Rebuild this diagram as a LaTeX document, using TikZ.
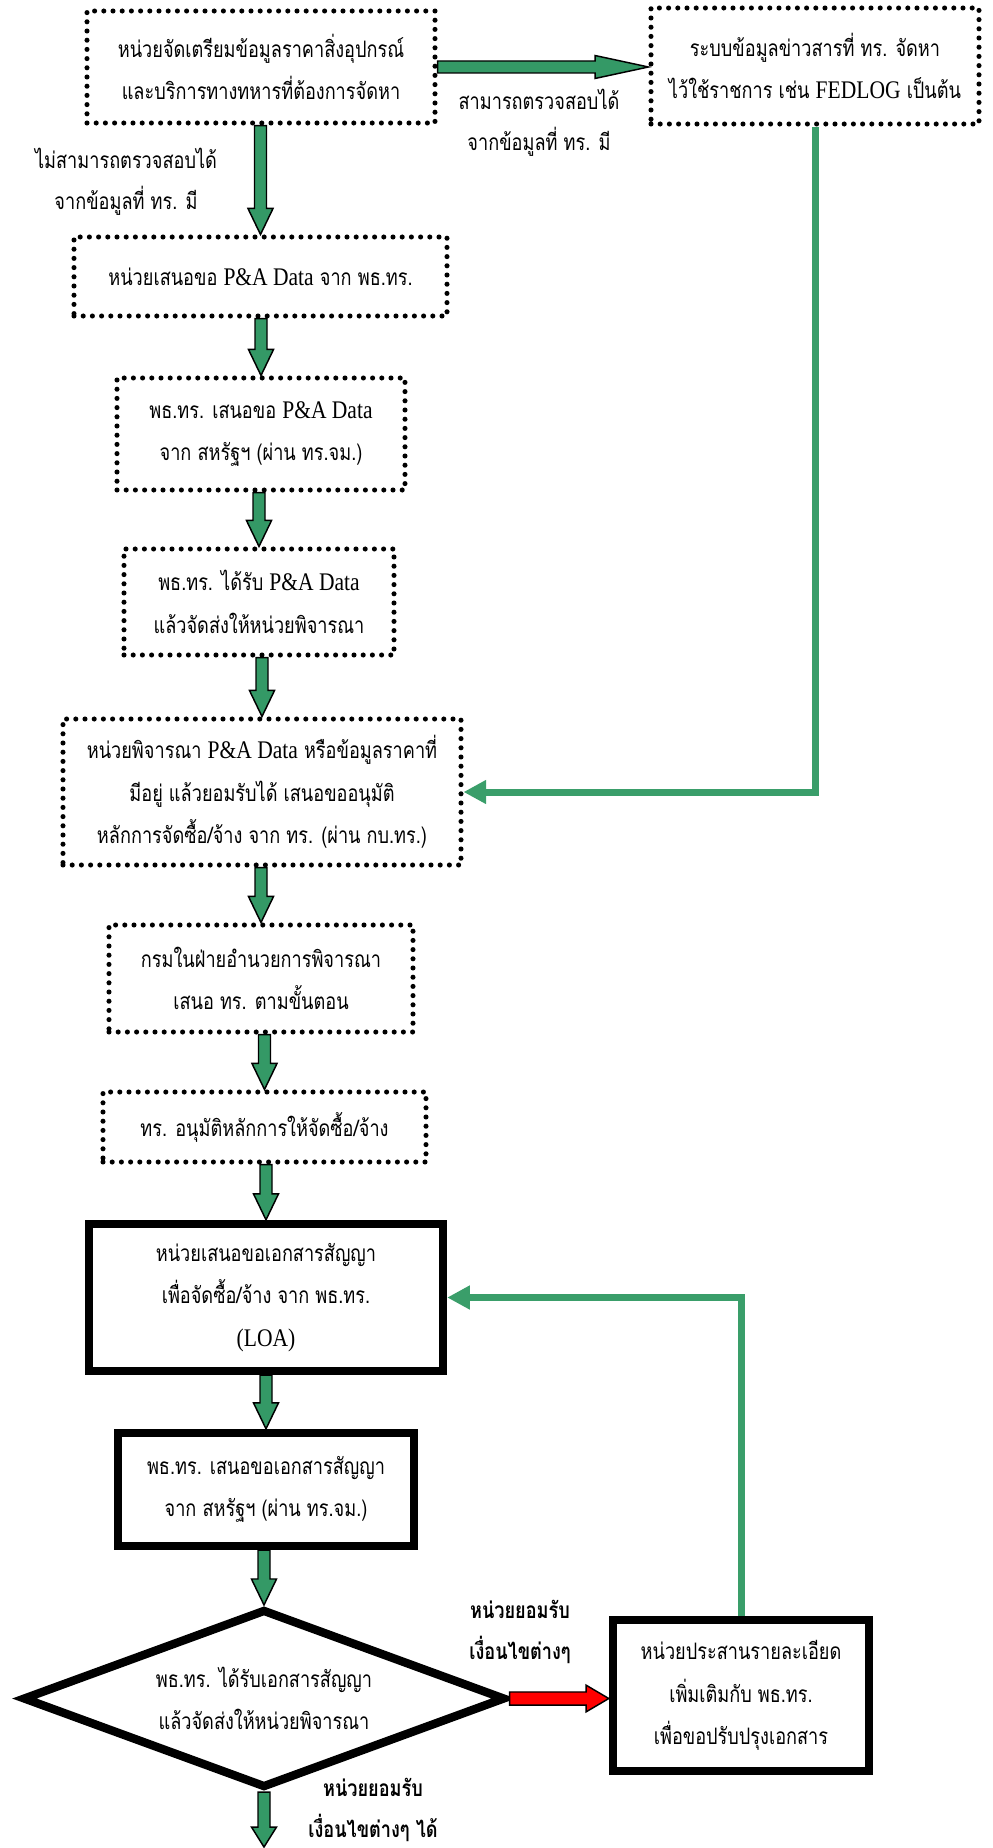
\documentclass[tikz,border=0pt]{standalone}
\usepackage{fontspec}
\setmainfont[Script=Thai,FakeStretch=0.8]{Loma}
\newfontfamily\latn[FakeStretch=0.85]{Liberation Serif}
\usetikzlibrary{calc,shapes.geometric,arrows.meta}
\definecolor{gfill}{RGB}{52,153,102}
\definecolor{gline}{RGB}{58,158,106}
\tikzset{
  ba sw/.store in=\basw, ba hw/.store in=\bahw, ba hl/.store in=\bahl,
  ba sw=4.5pt, ba hw=9.4pt, ba hl=19.5pt,
  blockarrow/.style={draw=black, line width=1.1pt, fill=gfill, line join=miter,
    to path={
      ($(\tikztotarget)!\bahl!(\tikztostart)$) coordinate (bah)
      ($(\tikztostart)!\basw!90:(\tikztotarget)$)
      -- ($(bah)!\basw!90:(\tikztotarget)$)
      -- ($(bah)!\bahw!90:(\tikztotarget)$)
      -- (\tikztotarget)
      -- ($(bah)!\bahw!-90:(\tikztotarget)$)
      -- ($(bah)!\basw!-90:(\tikztotarget)$)
      -- ($(\tikztostart)!\basw!-90:(\tikztotarget)$)
      -- cycle}},
  txt/.style={font=\fontsize{17pt}{32pt}\selectfont, align=center, text=black},
  dotbox/.style={txt, draw=black, line width=3.8pt, dash pattern=on 0pt off 6.9pt, line cap=round, inner sep=0pt},
  thickbox/.style={txt, draw=black, line width=6.3pt, inner sep=0pt},
  decision/.style={txt, diamond, aspect=2.7, draw=black, line width=6.3pt, inner sep=0pt},
  lbl/.style={font=\fontsize{17pt}{31pt}\selectfont, align=center, text=black, inner sep=0pt},
  lblbold/.style={font=\fontsize{17pt}{31pt}\selectfont\bfseries, align=center, text=black, inner sep=0pt},
  fb/.style={draw=gline, line width=5.25pt, -{Triangle[length=17pt,width=17pt]}}
}
\newcommand{\pa}{{\latn\fontsize{19pt}{32pt}\selectfont P\&A Data}}
\begin{document}
\begin{tikzpicture}[x=0.75pt,y=-0.75pt]
\useasboundingbox (0,0) rectangle (992,1848);
% boxes
\node[dotbox, minimum width=261pt, minimum height=84pt] (b1) at (261,67) {หน่วยจัดเตรียมข้อมูลราคาสิ่งอุปกรณ์\\และบริการทางทหารที่ต้องการจัดหา};
\node[dotbox, minimum width=246pt, minimum height=87pt] (b2) at (815,66) {ระบบข้อมูลข่าวสารที่ ทร. จัดหา\\ไว้ใช้ราชการ เช่น {\latn\fontsize{19pt}{32pt}\selectfont FEDLOG} เป็นต้น};
\node[dotbox, minimum width=279.75pt, minimum height=59.25pt] (b3) at (260.5,276.5) {หน่วยเสนอขอ \pa{} จาก พธ.ทร.};
\node[dotbox, minimum width=216pt, minimum height=84pt] (b4) at (261,434) {พธ.ทร. เสนอขอ \pa\\จาก สหรัฐฯ (ผ่าน ทร.จม.)};
\node[dotbox, minimum width=202.5pt, minimum height=79.5pt] (b5) at (259,602) {พธ.ทร. ได้รับ \pa\\แล้วจัดส่งให้หน่วยพิจารณา};
\node[dotbox, minimum width=298.5pt, minimum height=109.5pt] (b6) at (262,792) {หน่วยพิจารณา \pa{} หรือข้อมูลราคาที่\\มีอยู่ แล้วยอมรับได้ เสนอขออนุมัติ\\หลักการจัดซื้อ/จ้าง จาก ทร. (ผ่าน กบ.ทร.)};
\node[dotbox, minimum width=228pt, minimum height=80.25pt] (b7) at (261,978.5) {กรมในฝ่ายอำนวยการพิจารณา\\เสนอ ทร. ตามขั้นตอน};
\node[dotbox, minimum width=242.25pt, minimum height=52.5pt] (b8) at (264.5,1127) {ทร. อนุมัติหลักการให้จัดซื้อ/จ้าง};
\node[thickbox, minimum width=265.5pt, minimum height=110.25pt] (b9) at (266,1297.5) {หน่วยเสนอขอเอกสารสัญญา\\เพื่อจัดซื้อ/จ้าง จาก พธ.ทร.\\{\latn\fontsize{19pt}{32pt}\selectfont (LOA)}};
\node[thickbox, minimum width=222pt, minimum height=84.75pt] (b11) at (266,1489.5) {พธ.ทร. เสนอขอเอกสารสัญญา\\จาก สหรัฐฯ (ผ่าน ทร.จม.)};
\node[decision, minimum width=362pt, minimum height=134pt] (d) at (264,1698.5) {พธ.ทร. ได้รับเอกสารสัญญา\\แล้วจัดส่งให้หน่วยพิจารณา};
\node[thickbox, minimum width=192pt, minimum height=113.25pt] (b10) at (741,1695.5) {หน่วยประสานรายละเอียด\\เพิ่มเติมกับ พธ.ทร.\\เพื่อขอปรับปรุงเอกสาร};
\coordinate (bot) at (264,1847);
% labels
\node[lbl] (l1) at (539,123) {สามารถตรวจสอบได้\\จากข้อมูลที่ ทร. มี};
\node[lbl] (l2) at (126,182) {ไม่สามารถตรวจสอบได้\\จากข้อมูลที่ ทร. มี};
\node[lblbold] (l3) at (520,1632) {หน่วยยอมรับ\\เงื่อนไขต่างๆ};
\node[lblbold] (l4) at (373,1810) {หน่วยยอมรับ\\เงื่อนไขต่างๆ ได้};
% feedback lines
\draw[fb] (b2.south) |- (b6.east);
\draw[fb] (b10.north) |- (b9.east);
% block arrows
\draw[blockarrow, ba sw=4.5pt, ba hw=8.6pt, ba hl=40pt] (b1.east) to (b1.east -| b2.west);
\draw[blockarrow] (b1.south -| b3.north) to (b3.north);
\draw[blockarrow] (b3.south -| b4.north) to (b4.north);
\draw[blockarrow] (b4.south -| b5.north) to (b5.north);
\draw[blockarrow] (b5.south -| b6.north) to (b6.north);
\draw[blockarrow] (b6.south -| b7.north) to (b7.north);
\draw[blockarrow] (b7.south -| b8.north) to (b8.north);
\draw[blockarrow] (b8.south -| b9.north) to (b9.north);
\draw[blockarrow] (b9.south -| b11.north) to (b11.north);
\draw[blockarrow] (b11.south -| d.north) to (d.north);
\draw[blockarrow, ba hl=15pt] (d.south) to (bot);
\draw[blockarrow, fill=red, ba sw=4.9pt, ba hw=10pt, ba hl=17pt] (d.east) to (d.east -| b10.west);
\end{tikzpicture}
\end{document}
